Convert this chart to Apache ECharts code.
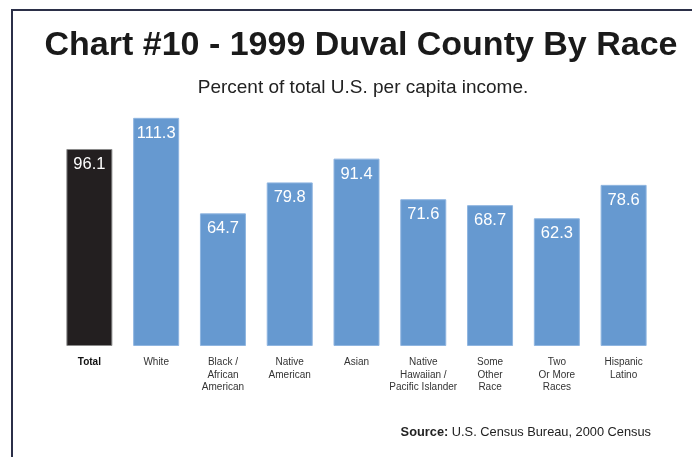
<!DOCTYPE html>
<html>
<head>
<meta charset="utf-8">
<script src="https://cdn.jsdelivr.net/npm/echarts@6/dist/echarts.min.js"></script>
<style>
  html, body { margin: 0; padding: 0; background: #fff; }
  #chart { width: 692px; height: 457px; }
</style>
</head>
<body>
<div id="chart"></div>
<script>
// 1999 Duval County per capita income by race, as % of U.S. total
const categories = [
  "Total", "White", "Black /\nAfrican\nAmerican", "Native\nAmerican", "Asian",
  "Native\nHawaiian /\nPacific Islander", "Some\nOther\nRace", "Two\nOr More\nRaces", "Hispanic\nLatino"
];
const values = [96.1, 111.3, 64.7, 79.8, 91.4, 71.6, 68.7, 62.3, 78.6];

const chart = echarts.init(document.getElementById("chart"), null, { renderer: "canvas" });

const font = "'Liberation Sans', Arial, Helvetica, sans-serif";

const option = {
  backgroundColor: "#fff",
  animation: false,
  title: [
    {
      text: "Chart #10 - 1999 Duval County By Race",
      left: 356, top: 24, textAlign: "center",
      textStyle: { fontFamily: font, fontSize: 34, fontWeight: "bold", color: "#1a1a1a" }
    },
    {
      text: "Percent of total U.S. per capita income.",
      left: 358, top: 73, textAlign: "center",
      textStyle: { fontFamily: font, fontSize: 19, fontWeight: "normal", color: "#222" }
    }
  ],
  graphic: [
    { type: "line", shape: { x1: 12, y1: 10, x2: 12, y2: 457 }, style: { stroke: "#2b2f48", lineWidth: 2 } },
    { type: "line", shape: { x1: 11, y1: 10, x2: 692, y2: 10 }, style: { stroke: "#2b2f48", lineWidth: 2 } },
    {
      type: "text", right: 41, top: 426,
      style: {
        text: "{b|Source:} U.S. Census Bureau, 2000 Census",
        font: "12.8px " + font, fill: "#222",
        rich: { b: { fontWeight: "bold", fontSize: 12.8, fontFamily: font, fill: "#222" } }
      }
    }
  ],
  grid: { left: 56, right: 35, top: 100, bottom: 111, containLabel: false },
  xAxis: {
    type: "category",
    data: categories,
    axisLine: { show: false },
    axisTick: { show: false },
    axisLabel: {
      interval: 0, margin: 10, lineHeight: 12.5,
      fontFamily: font,
      fontSize: 10, color: "#333",
      formatter: (v) => v === "Total" ? "{t|Total}" : v,
      rich: { t: { fontWeight: "bold", color: "#111", fontSize: 10, fontFamily: font } }
    }
  },
  yAxis: {
    type: "value", min: 0, max: 120,
    show: false,
    splitLine: { show: false }
  },
  series: [{
    type: "bar",
    barWidth: 46,
    data: values.map((v, i) => ({
      value: v,
      itemStyle: i === 0
        ? { color: "#231f20", borderColor: "#8a8a8a", borderWidth: 1 }
        : { color: "#6699d0", borderColor: "#8fb5e0", borderWidth: 1 }
    })),
    label: {
      show: true, position: "insideTop", distance: 7,
      fontFamily: font, fontSize: 16.5, color: "#fff",
      formatter: (p) => p.value.toFixed(1)
    }
  }]
};

chart.setOption(option);
</script>
</body>
</html>
